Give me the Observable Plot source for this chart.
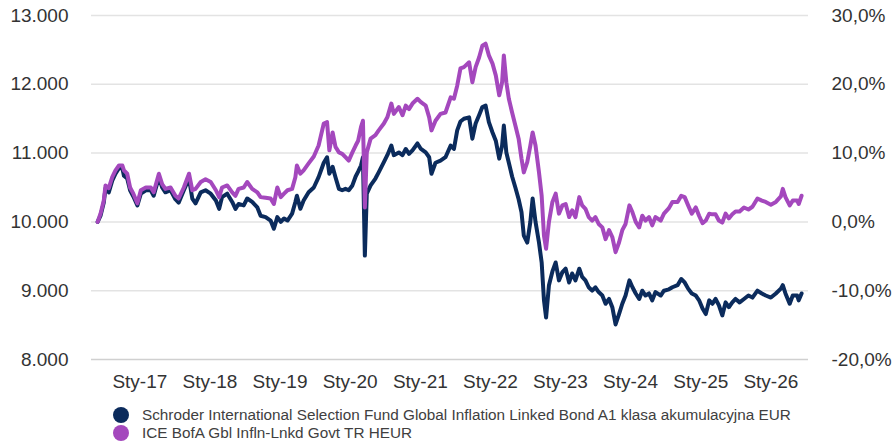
<!DOCTYPE html>
<html><head><meta charset="utf-8">
<script src="https://cdn.jsdelivr.net/npm/d3@7"></script>
<script src="https://cdn.jsdelivr.net/npm/@observablehq/plot@0.6"></script>
<style>
body{margin:0;background:#fff;font-family:"Liberation Sans",Arial,sans-serif;}
#chart{width:893px;height:444px;position:relative;overflow:hidden;}
#chart svg{display:block;}
.legend{position:absolute;left:113px;top:406px;font-size:15.3px;color:#404040;line-height:18px;}
.legend .row{display:flex;align-items:center;height:18px;white-space:nowrap;}
.legend .sw{width:16px;height:16px;border-radius:50%;display:inline-block;margin-right:13px;flex:none;}
</style></head><body><div id="chart"></div>
<script>
const dates = [
"2016-05-26","2016-06-10","2016-06-27","2016-07-06","2016-07-23","2016-08-10","2016-08-27","2016-09-14","2016-10-02","2016-10-10",
"2016-10-27","2016-11-11","2016-11-28","2016-12-19","2017-01-06","2017-02-01","2017-02-27","2017-03-14","2017-04-10","2017-04-27",
"2017-05-14","2017-06-10","2017-07-05","2017-07-22","2017-08-18","2017-09-14","2017-10-01","2017-10-18","2017-11-14","2017-12-09",
"2018-01-05","2018-02-01","2018-02-18","2018-03-05","2018-04-01","2018-04-27","2018-05-14","2018-05-30","2018-06-26","2018-07-14",
"2018-08-09","2018-09-05","2018-09-22","2018-10-18","2018-11-13","2018-11-30","2018-12-18","2019-01-05","2019-01-22","2019-02-09",
"2019-03-05","2019-03-22","2019-03-30","2019-04-17","2019-05-04","2019-05-30","2019-06-26","2019-07-21","2019-08-17","2019-09-03",
"2019-09-15","2019-10-02","2019-10-17","2019-11-04","2019-11-21","2019-12-08","2019-12-25","2020-01-13","2020-01-30","2020-02-12",
"2020-02-27","2020-03-08","2020-03-18","2020-03-28","2020-04-17","2020-05-12","2020-05-29","2020-06-25","2020-07-13","2020-08-03",
"2020-08-16","2020-09-11","2020-09-30","2020-10-17","2020-11-03","2020-11-21","2020-12-17","2021-01-04","2021-01-29","2021-02-16",
"2021-02-28","2021-03-21","2021-04-16","2021-05-12","2021-06-08","2021-06-25","2021-07-12","2021-07-29","2021-08-16","2021-09-12",
"2021-09-29","2021-10-16","2021-11-03","2021-11-20","2021-12-07","2021-12-24","2022-01-12","2022-01-29","2022-02-16","2022-03-03",
"2022-03-12","2022-03-25","2022-04-07","2022-04-24","2022-05-11","2022-05-28","2022-06-12","2022-06-24","2022-07-12","2022-07-28",
"2022-08-09","2022-08-24","2022-09-11","2022-09-25","2022-10-07","2022-10-18","2022-11-02","2022-11-20","2022-12-07","2022-12-24",
"2023-01-11","2023-01-28","2023-02-15","2023-03-03","2023-03-20","2023-04-09","2023-04-24","2023-05-11","2023-05-28","2023-06-15",
"2023-07-02","2023-07-19","2023-08-07","2023-08-24","2023-09-11","2023-09-28","2023-10-15","2023-11-02","2023-11-19","2023-12-06",
"2023-12-26","2024-01-11","2024-01-28","2024-02-15","2024-03-02","2024-03-19","2024-04-06","2024-04-23","2024-05-10","2024-06-06",
"2024-06-23","2024-07-19","2024-08-06","2024-09-02","2024-09-21","2024-10-09","2024-10-27","2024-11-15","2024-12-06","2024-12-23",
"2025-01-10","2025-01-27","2025-02-14","2025-03-02","2025-03-19","2025-04-05","2025-04-23","2025-05-10","2025-05-27","2025-06-14",
"2025-07-01","2025-07-22","2025-08-14","2025-09-06","2025-09-27","2025-10-23","2025-11-15","2025-12-05","2026-01-01","2026-01-27",
"2026-02-22","2026-03-04","2026-03-18","2026-04-09","2026-04-25","2026-05-18","2026-05-26","2026-06-10"
];

const fundValues = [
10000,10090,10280,10490,10430,10600,10700,10780,10780,10670,
10630,10460,10370,10240,10410,10460,10460,10380,10650,10500,
10430,10460,10330,10280,10460,10630,10340,10270,10430,10460,
10410,10310,10190,10360,10410,10290,10190,10260,10240,10340,
10290,10210,10090,10070,10020,9900,10070,10000,10050,10020,
10120,10290,10380,10190,10310,10430,10500,10650,10860,10940,
10700,10800,10650,10480,10460,10480,10460,10530,10660,10730,
10820,10940,9510,10410,10530,10630,10720,10870,10970,11110,
10970,11010,10970,11060,10990,11040,11140,11060,11010,10940,
10700,10860,10890,10940,11110,11060,11330,11460,11500,11520,
11210,11430,11550,11670,11690,11450,11300,11180,10920,11110,
11400,11010,10860,10660,10500,10330,10140,9800,9700,10000,
10340,10000,9700,9410,8860,8610,9080,9280,9410,9150,
9270,9320,9120,9250,9150,9320,9200,9150,9050,9000,
9050,8980,8930,8810,8880,8760,8510,8660,8810,8930,
9150,9050,8960,8880,9000,8930,8960,8860,8980,8930,
9000,9020,9050,9080,9170,9120,9030,8960,8930,8860,
8740,8660,8860,8810,8880,8790,8640,8830,8760,8830,
8880,8830,8880,8930,8900,9000,8960,8930,8900,8960,
9030,9080,8960,8810,8930,8930,8860,8960
];

const indexValues = [
10000,10120,10310,10530,10490,10650,10750,10820,10820,10750,
10700,10500,10410,10270,10460,10500,10500,10430,10700,10550,
10480,10500,10380,10340,10500,10700,10460,10480,10580,10620,
10580,10460,10360,10500,10530,10430,10380,10480,10500,10580,
10480,10430,10360,10350,10340,10260,10500,10360,10410,10460,
10480,10650,10820,10700,10750,10850,10950,11110,11430,11450,
11040,11300,11090,11010,10990,10940,10890,11010,11110,11180,
11380,11470,10210,11010,11210,11260,11330,11430,11520,11720,
11570,11670,11550,11690,11640,11720,11790,11740,11690,11520,
11330,11470,11570,11590,11810,11790,11980,12230,12250,12320,
12030,12250,12390,12560,12590,12420,12300,12130,11840,12030,
12420,12030,11790,11590,11400,11210,10920,10720,10870,11110,
11300,11110,10720,10380,9800,9610,10000,10290,10410,10120,
10240,10260,10070,10170,10070,10360,10240,10190,10070,10020,
10070,9970,9920,9750,9880,9780,9560,9700,9880,9970,
10240,10140,10000,9920,10090,10020,10070,9950,10070,10020,
10120,10200,10290,10290,10380,10360,10240,10120,10210,10090,
9980,10020,10120,10110,10110,10020,9990,10120,10050,10110,
10150,10150,10210,10180,10220,10340,10310,10290,10250,10290,
10370,10480,10360,10240,10310,10310,10260,10380
];

const seriesNames = [
  "Schroder International Selection Fund Global Inflation Linked Bond A1 klasa akumulacyjna EUR",
  "ICE BofA Gbl Infln-Lnkd Govt TR HEUR"
];
const seriesColors = ["#0b2b5c", "#a448bd"];

const xTickDates = ["2017-01-01","2018-01-01","2019-01-01","2020-01-01","2021-01-01","2022-01-01","2023-01-01","2024-01-01","2025-01-01","2026-01-01"];
const xTickLabels = ["Sty-17","Sty-18","Sty-19","Sty-20","Sty-21","Sty-22","Sty-23","Sty-24","Sty-25","Sty-26"];
const yTicks = [8000, 9000, 10000, 11000, 12000, 13000];
const baseValue = 10000;

const rows = [];
dates.forEach((d, i) => {
  rows.push({date: new Date(d), value: fundValues[i], series: seriesNames[0]});
});
dates.forEach((d, i) => {
  rows.push({date: new Date(d), value: indexValues[i], series: seriesNames[1]});
});

const locale = d3.formatLocale({decimal: ",", thousands: ".", grouping: [3], currency: ["", ""]});
const fmtLeft = locale.format(",d");
const fmtRight = d => ((d - baseValue) / baseValue * 100).toFixed(1).replace(".", ",") + "%";
const xTickObjs = xTickDates.map(d => new Date(d));
const labelByTime = new Map(xTickObjs.map((d, i) => [d.getTime(), xTickLabels[i]]));

const chart = Plot.plot({
  width: 893,
  height: 400,
  marginLeft: 91,
  marginRight: 85,
  marginTop: 15,
  marginBottom: 41,
  style: {fontFamily: "'Liberation Sans', Arial, sans-serif", fontSize: "19px", color: "#333", background: "#fff"},
  x: {type: "utc", domain: [new Date("2016-04-24"), new Date("2026-07-16")]},
  y: {domain: [8000, 13000]},
  color: {domain: seriesNames, range: seriesColors},
  marks: [
    Plot.gridY(yTicks.filter(v => v !== 8000), {stroke: "#e3e3e3", strokeOpacity: 1, strokeWidth: 1.5}),
    Plot.ruleY([8000], {stroke: "#d0d0d0", strokeWidth: 1.5}),
    Plot.axisY(yTicks, {anchor: "left", tickSize: 0, tickPadding: 23, tickFormat: fmtLeft, label: null, fill: "#333"}),
    Plot.axisY(yTicks, {anchor: "right", tickSize: 0, tickPadding: 23, tickFormat: fmtRight, label: null, fill: "#333"}),
    Plot.axisX(xTickObjs, {tickSize: 0, tickPadding: 15, tickFormat: d => labelByTime.get(d.getTime()), label: null, fill: "#333"}),
    Plot.lineY(rows, {x: "date", y: "value", z: "series", stroke: "series", strokeWidth: 4, strokeLinejoin: "round"})
  ]
});

const container = document.getElementById("chart");
container.appendChild(chart);
const legend = document.createElement("div");
legend.className = "legend";
seriesNames.forEach((name, i) => {
  const row = document.createElement("div");
  row.className = "row";
  const sw = document.createElement("span");
  sw.className = "sw";
  sw.style.background = seriesColors[i];
  const t = document.createElement("span");
  t.textContent = name;
  row.appendChild(sw);
  row.appendChild(t);
  legend.appendChild(row);
});
container.appendChild(legend);
</script>
</body></html>
